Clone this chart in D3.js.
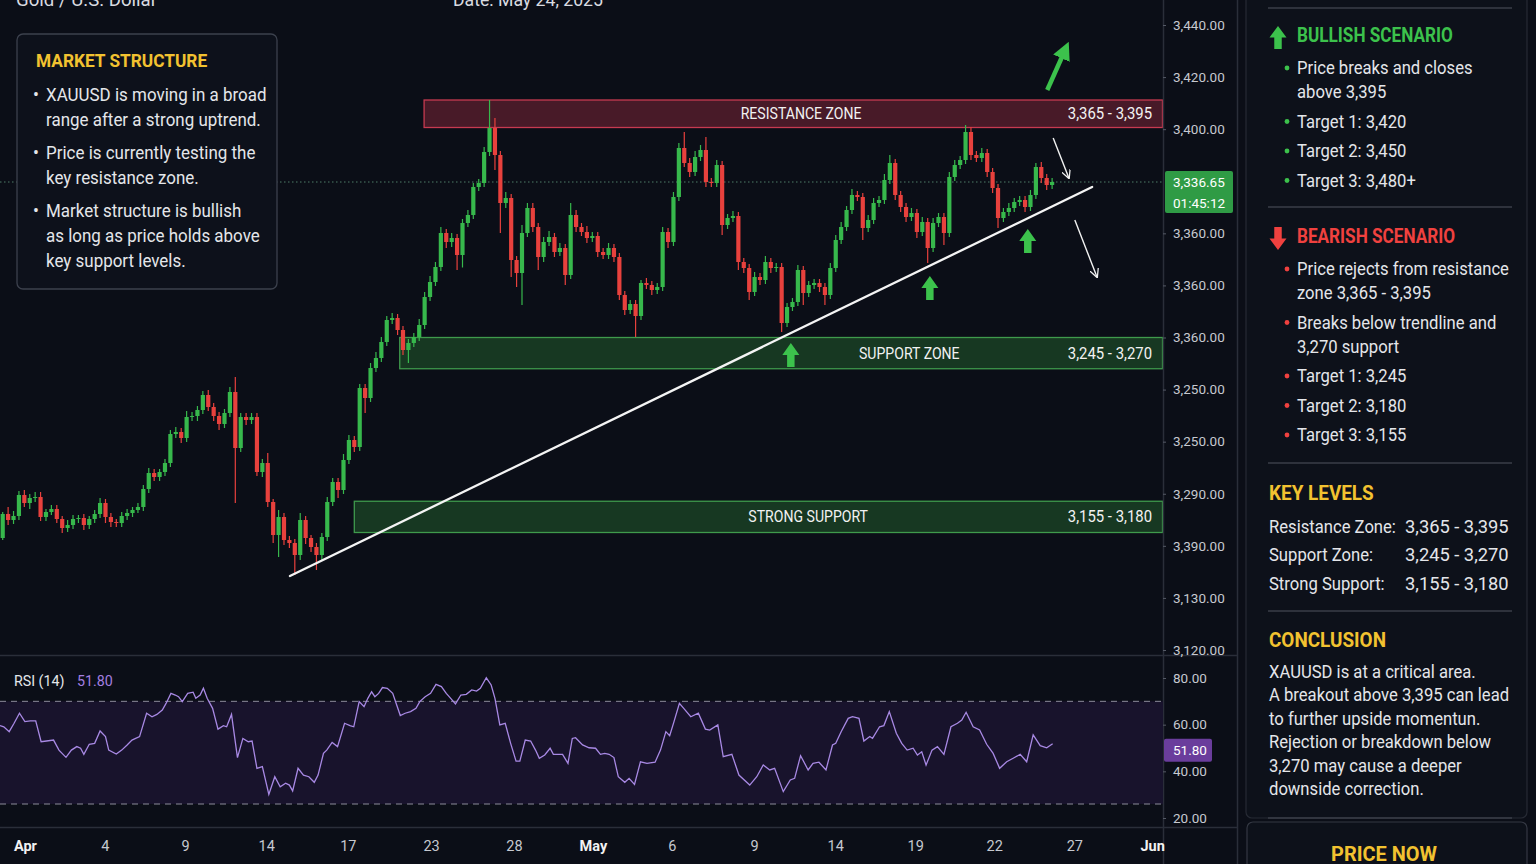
<!DOCTYPE html>
<html>
<head>
<meta charset="utf-8">
<script src="https://cdn.jsdelivr.net/npm/d3@7"></script>
<style>
    html, body { margin: 0; padding: 0; background: #0b0e17; overflow: hidden; }
    svg { display: block; font-family: Roboto, "Noto Sans", sans-serif; }
</style>
</head>
<body>
<svg id="chart" width="1536" height="864"></svg>
<script>
// ---- candle data (open = previous close) ----
const firstOpen = 3234.8;
const closes = [
    3244.4, 3242, 3243.6, 3252, 3248.8, 3250.8, 3251.2, 3243.2, 3245.2, 3246.4,
    3242.4, 3238.8, 3240, 3242.4, 3242.8, 3240, 3242.4, 3244.4, 3248.8, 3243.2,
    3241.2, 3240.8, 3243.6, 3244.8, 3246, 3247.2, 3254.4, 3260.8, 3259.2, 3261.2,
    3264.8, 3276.4, 3277.2, 3274.8, 3283.2, 3283.6, 3286, 3292, 3287.2, 3283.6,
    3280.4, 3284.8, 3293.2, 3270.8, 3283.2, 3282, 3283.2, 3261.2, 3264.8, 3249.2,
    3236, 3243.2, 3234, 3232.8, 3228, 3242, 3234.8, 3231.2, 3228, 3235.2,
    3249.2, 3257.2, 3254, 3266, 3274, 3271.2, 3294.8, 3290.8, 3302.8, 3306.8,
    3313.2, 3322, 3322.8, 3318, 3310, 3312.8, 3315.2, 3320, 3331.2, 3337.2,
    3343.2, 3356.8, 3353.2, 3354.8, 3348, 3360.8, 3364, 3375.2, 3376.8, 3389.2,
    3398.8, 3388, 3368.8, 3370.8, 3346, 3340.8, 3356.8, 3366.8, 3359.2, 3347.2,
    3353.2, 3355.2, 3349.2, 3350.8, 3340, 3364, 3359.2, 3357.2, 3354.8, 3355.6,
    3349.2, 3348, 3350.8, 3347.2, 3332, 3326, 3328.4, 3323.6, 3336.8, 3336,
    3334, 3335.2, 3357.2, 3353.2, 3371.2, 3390.8, 3384.8, 3381.2, 3387.2, 3390,
    3377.2, 3376.8, 3384, 3360, 3362.8, 3363.6, 3345.2, 3342.8, 3333.2, 3339.2,
    3338, 3345.2, 3342.8, 3343.2, 3320.8, 3327.2, 3329.2, 3342, 3332.8, 3336,
    3336.8, 3335.2, 3332, 3342.8, 3354, 3359.2, 3366, 3372, 3371.2, 3358.8,
    3362, 3368.8, 3370, 3378, 3384.8, 3372, 3367.2, 3363.2, 3364.8, 3357.2,
    3361.2, 3350.8, 3360.8, 3363.2, 3356.8, 3379.2, 3384, 3386, 3397.2, 3388,
    3386.8, 3388.8, 3381.2, 3374.8, 3362.8, 3365.2, 3366.8, 3369.2, 3370, 3367.2,
    3372, 3383.2, 3378.8, 3376, 3377.2
];
const upperWick = [
    0.8, 2.8, 2, 1.6, 2, 1.6, 2, 2, 1.2, 1.6,
    1.6, 1.2, 2, 1.6, 1.2, 1.6, 1.2, 1.6, 2, 1.6,
    1.6, 1.2, 1.6, 1.6, 1.2, 1.6, 1.6, 2, 1.6, 1.2,
    1.6, 1.6, 2, 1.6, 2.4, 1.6, 1.6, 1.6, 2, 1.6,
    1.6, 1.6, 2, 6, 1.6, 1.6, 1.6, 1.6, 1.6, 4,
    1.2, 2.8, 1.6, 1.6, 1.6, 2.8, 1.6, 1.2, 1.6, 1.6,
    2, 1.6, 1.6, 2.4, 2, 1.6, 1.6, 1.6, 2, 2.4,
    2, 1.6, 2, 1.6, 1.6, 1.6, 1.6, 2.4, 2, 2.4,
    2, 2.4, 1.6, 2, 1.6, 1.6, 2, 1.6, 1.6, 2,
    11.2, 4, 1.6, 2.4, 1.6, 1.6, 3.2, 2, 2, 1.6,
    2, 2.4, 1.6, 2, 1.6, 4.8, 2, 1.6, 2.4, 1.6,
    1.6, 1.6, 2, 1.6, 1.6, 1.6, 1.6, 1.6, 1.2, 2,
    1.6, 1.6, 2, 1.6, 2, 2, 6.4, 2, 2.4, 2,
    5.2, 1.6, 2, 1.6, 1.6, 2, 1.6, 1.6, 1.6, 2,
    1.6, 2.4, 1.6, 1.6, 1.6, 1.6, 1.6, 2, 1.6, 1.6,
    1.6, 1.6, 1.6, 2, 2, 2, 1.6, 2.4, 1.6, 1.6,
    2, 2, 1.6, 2.4, 3.2, 1.6, 1.6, 1.6, 2, 1.6,
    2, 1.6, 2, 1.6, 1.6, 2, 2, 1.6, 2.8, 2,
    1.6, 2, 1.6, 1.6, 1.6, 1.6, 2, 1.6, 1.6, 1.6,
    2, 1.6, 2, 1.6, 1.6
];
const lowerWick = [
    0.8, 2, 1.6, 1.6, 1.6, 2.4, 1.6, 1.6, 1.6, 1.2,
    1.6, 2, 1.6, 1.6, 1.6, 2, 1.6, 1.6, 1.6, 2.4,
    2, 1.6, 1.6, 1.6, 1.6, 1.2, 1.6, 1.6, 1.6, 1.6,
    1.6, 1.6, 1.6, 2, 1.6, 1.6, 2, 1.6, 1.6, 2,
    2.4, 1.6, 1.6, 22, 1.6, 2, 1.6, 1.6, 2, 2,
    3.2, 8.8, 2, 2, 8, 2, 2.4, 2, 6, 2,
    1.6, 1.6, 3.2, 1.6, 1.6, 2, 1.6, 6, 1.6, 1.6,
    1.6, 1.6, 1.6, 2, 2, 5.2, 1.6, 1.6, 1.6, 1.6,
    1.6, 1.6, 2.4, 2, 6, 5, 1.6, 1.6, 1.6, 1.6,
    1.6, 6, 12, 2, 6.8, 5.6, 12.8, 1.6, 2, 5.2,
    2, 1.6, 2, 1.6, 4, 1.6, 2, 1.6, 2, 1.6,
    2, 1.6, 1.6, 2, 2, 2, 1.6, 8.4, 1.6, 1.6,
    2, 1.6, 1.6, 2.4, 1.6, 1.6, 1.6, 2, 1.6, 1.6,
    2, 1.6, 1.6, 4, 1.6, 1.6, 3.2, 2, 3.2, 1.6,
    2, 1.6, 2, 1.6, 3.6, 1.6, 1.6, 1.6, 4.8, 1.6,
    1.6, 2, 4, 1.6, 1.6, 1.6, 1.6, 1.6, 1.6, 4.8,
    1.6, 1.6, 1.6, 1.6, 1.6, 2, 2, 2, 1.6, 2.4,
    1.6, 6, 1.6, 1.6, 4.8, 1.6, 1.6, 1.6, 1.6, 2,
    1.6, 1.6, 2, 2, 4, 1.6, 1.6, 1.6, 1.6, 2,
    1.6, 1.6, 2, 2, 1.6
];

// ---- RSI (candle index, value) ----
const rsiPoints = [
    [-0.5,59.6],[0.2,59.1],[1.2,57],[2.1,60.6],[3.1,64.9],[4.1,61.3],[5.1,61.6],[6.1,61.6],[7.1,52.7],[8.1,53],
    [9.4,53.4],[10.4,49.1],[11.7,46],[12.7,49.1],[13.7,50.6],[14.4,49.9],[15,47.3],[16,51.6],[17,52],[18,57.3],
    [19,54.9],[19.6,49.1],[21,47.4],[22,49.1],[23,51.3],[23.9,53.4],[25.3,54.9],[26.6,64.9],[27.6,63.4],[28.5,64.4],
    [29.5,66.3],[30.2,69.1],[31.1,73.4],[31.9,72.7],[32.5,72],[33.2,69.9],[34.2,73.4],[35.2,73.9],[35.7,71.3],[36.5,72.7],
    [37.1,75.6],[37.8,71.3],[38.8,67],[39.8,58.1],[40.8,59.6],[41.4,59.1],[42.3,64.4],[43.4,45.9],[44.4,54.1],[45.4,52.7],
    [46.1,53],[47,41.3],[48,42],[49.2,30.1],[50.3,37.7],[51.3,33.4],[52.3,34.9],[53,34.1],[53.6,31.6],[54.6,41.3],
    [55.6,38.4],[56.6,37.7],[57.6,35.3],[58.3,38.4],[59.3,47.7],[59.9,49.1],[60.9,52.4],[61.9,50.6],[63.2,60.6],[64.2,59.6],
    [64.9,59.1],[65.9,69.9],[66.8,67.7],[67.5,71.3],[68.2,74.1],[68.8,72],[69.5,73.4],[70.2,75.9],[71.1,75.6],[72.1,73.4],
    [73.5,63.9],[74.4,64.9],[75.4,65.6],[76.4,67],[77.1,69.9],[78.1,72],[79.1,73.4],[80.1,77.3],[81.1,76.3],[82,73.4],
    [82.7,71.6],[83.7,68.9],[84.7,72.7],[85.7,73],[86.7,74.9],[87.6,74.4],[88.3,75.6],[89.4,80.1],[90.3,77],[91,71.3],
    [91.9,59.9],[92.9,60.6],[93.9,52],[94.9,44.4],[95.6,44.4],[96.6,53.4],[97.6,53],[98.5,49.1],[99.2,45.6],[100.2,47],
    [101.2,49.9],[101.8,47.3],[103.5,47.3],[104.5,43.4],[105.3,54.1],[105.9,54.4],[107.2,51.3],[108.4,50.1],[109.6,49.9],[110.5,47.3],
    [111.3,47.7],[112.1,47.3],[113,45.9],[113.8,37.7],[115,35.3],[115.8,37],[116.8,34.4],[117.9,44.1],[119.1,43.4],[120.6,43.9],
    [121.6,49.1],[122.6,57],[123.3,55.3],[124.1,61.3],[125.1,69.1],[125.9,67],[127.2,63.4],[128.6,64.9],[129.9,58.1],[130.7,57.7],
    [132.2,59.9],[133.2,46.3],[134.8,47.3],[136.1,38.4],[138.1,34.1],[139.4,37.7],[140.6,42.7],[141.8,40.6],[142.7,41.3],[144.3,31.3],
    [145.6,36.3],[146.4,37],[147.5,46.7],[148.9,40.6],[149.8,43.4],[150.9,43.9],[152.2,40.6],[153.4,51.3],[154,52],[155,57],
    [156.3,62.7],[157.1,63.4],[158.3,62.7],[159.2,53],[160.3,54.9],[160.8,54.1],[162.1,59.1],[162.9,59.6],[163.9,65.6],[165.2,56.3],
    [166.2,52],[167.2,49.1],[168.3,49.9],[169.1,47],[169.9,48.4],[170.7,42.7],[171.8,49.1],[172.8,50.6],[174,47.3],[175.3,59.1],
    [176.5,60.6],[177.3,62],[178.1,65.3],[179.4,59.1],[180.6,57.7],[181.9,51.6],[183.1,47.7],[184.3,41.3],[185.6,44.1],[186.8,45.6],
    [188.1,47.3],[189.3,44.1],[190.5,55.6],[191.8,51],[193,50.1],[194.1,51.8]
];
const rsiLast = 51.8;
const rsiBands = [70, 26];
const rsiTicks = [80, 60, 40, 20];

// ---- axes labels ----
const priceTickLabels = ["3,440.00", "3,420.00", "3,400.00", "", "3,360.00", "3,360.00", "3,360.00",
    "3,250.00", "3,250.00", "3,290.00", "3,390.00", "3,130.00", "3,120.00"];
const dateTickIdx = [4.1, 18.9, 33.7, 48.7, 63.8, 79.2, 94.5, 109.1, 123.7, 138.9, 153.9, 168.7, 183.3, 198.1, 212.5];
const dateTickLabels = ["Apr", "4", "9", "14", "17", "23", "28", "May", "6", "9", "14", "19", "22", "27", "Jun"];
const monthLabels = ["Apr", "May", "Jun"];

// ---- zones & annotations ----
const zoneNames = ["RESISTANCE ZONE", "SUPPORT ZONE", "STRONG SUPPORT"];
const zoneRangeText = ["3,365 - 3,395", "3,245 - 3,270", "3,155 - 3,180"];
const zoneLow = [3399, 3302.5, 3237];
const zoneHigh = [3410, 3315, 3249.5];
const zoneFrom = [77.9, 73.4, 65];
const zoneLabelAt = [147.6, 167.6, 148.9];
const trendline = [[53.1, 3219.6], [201.4, 3375.2]];
const upArrowIdx = [145.7, 171.4, 189.5];
const upArrowPrice = [3312.8, 3339.6, 3358.4];
const bullArrow = [[193.1, 3414], [196.4, 3430]];
const bearArrows = [[[194.2, 3394.8], [197.1, 3378.8]], [[198.2, 3362], [202.3, 3339.2]]];
const lastPriceLabel = "3,336.65";
const countdownLabel = "01:45:12";

// ---- texts ----
const headerLeft = "Gold / U.S. Dollar";
const headerDate = "Date: May 24, 2025";
const marketItems = [
    ["XAUUSD is moving in a broad", "range after a strong uptrend."],
    ["Price is currently testing the", "key resistance zone."],
    ["Market structure is bullish", "as long as price holds above", "key support levels."]
];
const bullishItems = [["Price breaks and closes", "above 3,395"], ["Target 1: 3,420"], ["Target 2: 3,450"], ["Target 3: 3,480+"]];
const bearishItems = [["Price rejects from resistance", "zone 3,365 - 3,395"], ["Breaks below trendline and", "3,270 support"],
    ["Target 1: 3,245"], ["Target 2: 3,180"], ["Target 3: 3,155"]];
const keyLevelNames = ["Resistance Zone:", "Support Zone:", "Strong Support:"];
const keyLevelValues = ["3,365 - 3,395", "3,245 - 3,270", "3,155 - 3,180"];
const conclusionLines = ["XAUUSD is at a critical area.", "A breakout above 3,395 can lead", "to further upside momentun.",
    "Rejection or breakdown below", "3,270 may cause a deeper", "downside correction."];

// ---- colours ----
const upColor = "#37b84c";
const downColor = "#e8413d";
const yellow = "#f2c230";
const textColor = "#e4e6ea";
const axisText = "#c6c9d0";
const lineColor = "#2a2e39";

const svg = d3.select("#chart");
const plotR = 1163;

const x = d3.scaleLinear().domain([-0.5, 214.5]).range([0, plotR]);
const y = d3.scaleLinear().domain([3190, 3440]).range([650, 25]);
const yRsi = d3.scaleLinear().domain([20, 80]).range([818, 678]);

function txt(parent, px, py, s, size, fill, weight, anchor, sx) {
    return parent.append("text")
        .attr("transform", `translate(${px},${py}) scale(${sx || 1},1)`)
        .attr("font-size", size)
        .attr("font-weight", weight || 400)
        .attr("text-anchor", anchor || "start")
        .attr("fill", fill)
        .text(s);
}

function blockArrow(parent, cx, top, w, h, color, down) {
    // arrow pointing up (or down) with a square shaft
    const head = h * 0.5, shaft = w * 0.44;
    const p = d3.path();
    if (!down) {
        p.moveTo(cx, top); p.lineTo(cx + w / 2, top + head); p.lineTo(cx + shaft / 2, top + head);
        p.lineTo(cx + shaft / 2, top + h); p.lineTo(cx - shaft / 2, top + h); p.lineTo(cx - shaft / 2, top + head);
        p.lineTo(cx - w / 2, top + head);
    } else {
        p.moveTo(cx, top + h); p.lineTo(cx + w / 2, top + h - head); p.lineTo(cx + shaft / 2, top + h - head);
        p.lineTo(cx + shaft / 2, top); p.lineTo(cx - shaft / 2, top); p.lineTo(cx - shaft / 2, top + h - head);
        p.lineTo(cx - w / 2, top + h - head);
    }
    p.closePath();
    parent.append("path").attr("d", p.toString()).attr("fill", color);
}

// background
svg.append("rect").attr("width", 1536).attr("height", 864).attr("fill", "#0b0e17");

const defs = svg.append("defs");
defs.append("clipPath").attr("id", "plotClip").append("rect").attr("x", 0).attr("y", 0).attr("width", plotR).attr("height", 655);
defs.append("clipPath").attr("id", "rsiClip").append("rect").attr("x", 0).attr("y", 656).attr("width", plotR).attr("height", 170);
defs.append("marker").attr("id", "greenHead").attr("viewBox", "0 0 10 10").attr("refX", 5).attr("refY", 5)
    .attr("markerWidth", 4).attr("markerHeight", 4).attr("orient", "auto-start-reverse")
    .append("path").attr("d", "M0,0 L10,5 L0,10 z").attr("fill", "#3cc24c");
defs.append("marker").attr("id", "whiteHead").attr("viewBox", "0 0 10 10").attr("refX", 9).attr("refY", 5)
    .attr("markerWidth", 9).attr("markerHeight", 9).attr("markerUnits", "userSpaceOnUse").attr("orient", "auto")
    .append("path").attr("d", "M0,0 L10,5 L0,10").attr("fill", "none").attr("stroke", "#f2f2f2").attr("stroke-width", 1.4);

// ---- price pane ----
const plot = svg.append("g").attr("clip-path", "url(#plotClip)");

zoneNames.forEach((name, k) => {
    const res = k === 0;
    plot.append("rect")
        .attr("x", x(zoneFrom[k])).attr("width", plotR - x(zoneFrom[k]) - 0.5)
        .attr("y", y(zoneHigh[k])).attr("height", y(zoneLow[k]) - y(zoneHigh[k]))
        .attr("fill", res ? "#481a28" : "#173822")
        .attr("stroke", res ? "#c63a50" : "#3f9a4c").attr("stroke-width", 1.3);
});

// last price dotted line
plot.append("line")
    .attr("x1", 0).attr("x2", plotR)
    .attr("y1", y(closes[closes.length - 1])).attr("y2", y(closes[closes.length - 1]))
    .attr("stroke", "#4f7d69").attr("stroke-width", 1).attr("stroke-dasharray", "1.5,2.5");

const candles = closes.map((c, i) => {
    const o = i === 0 ? firstOpen : closes[i - 1];
    return { i, o, c, h: Math.max(o, c) + upperWick[i], l: Math.min(o, c) - lowerWick[i] };
});
const bw = 4.2;
plot.selectAll("line.wick").data(candles).join("line").attr("class", "wick")
    .attr("x1", d => x(d.i)).attr("x2", d => x(d.i))
    .attr("y1", d => y(d.h)).attr("y2", d => y(d.l))
    .attr("stroke", d => d.c >= d.o ? upColor : downColor).attr("stroke-width", 1.2);
plot.selectAll("rect.body").data(candles).join("rect").attr("class", "body")
    .attr("x", d => x(d.i) - bw / 2).attr("width", bw)
    .attr("y", d => y(Math.max(d.o, d.c)))
    .attr("height", d => Math.max(1, Math.abs(y(d.o) - y(d.c))))
    .attr("fill", d => d.c >= d.o ? upColor : downColor);

// trendline
plot.append("line")
    .attr("x1", x(trendline[0][0])).attr("y1", y(trendline[0][1]))
    .attr("x2", x(trendline[1][0])).attr("y2", y(trendline[1][1]))
    .attr("stroke", "#f4f4f4").attr("stroke-width", 2.3).attr("stroke-linecap", "round");

// support bounce arrows
upArrowIdx.forEach((ix, k) => blockArrow(plot, x(ix), y(upArrowPrice[k]), 17, 24, "#3cc24c", false));

// scenario arrows
plot.append("line")
    .attr("x1", x(bullArrow[0][0])).attr("y1", y(bullArrow[0][1]))
    .attr("x2", x(bullArrow[1][0])).attr("y2", y(bullArrow[1][1]))
    .attr("stroke", "#3cc24c").attr("stroke-width", 4.5).attr("marker-end", "url(#greenHead)");
bearArrows.forEach(a => {
    plot.append("line")
        .attr("x1", x(a[0][0])).attr("y1", y(a[0][1]))
        .attr("x2", x(a[1][0])).attr("y2", y(a[1][1]))
        .attr("stroke", "#f2f2f2").attr("stroke-width", 1.4).attr("marker-end", "url(#whiteHead)");
});

// zone labels
zoneNames.forEach((name, k) => {
    const mid = (y(zoneHigh[k]) + y(zoneLow[k])) / 2 + 5.5;
    txt(plot, x(zoneLabelAt[k]), mid, name, 16, "#f2f2f2", 400, "middle", 0.88);
    txt(plot, plotR - 11, mid, zoneRangeText[k], 16, "#f2f2f2", 400, "end", 0.93);
});

// market structure box
const box = svg.append("g");
box.append("rect").attr("x", 17).attr("y", 34).attr("width", 260).attr("height", 255).attr("rx", 6)
    .attr("fill", "#0d111b").attr("stroke", "#3c414d").attr("stroke-width", 1.3);
txt(box, 36, 67, "MARKET STRUCTURE", 19, yellow, 700, "start", 0.91);
let my = 101;
marketItems.forEach(item => {
    item.forEach((line, j) => {
        if (j === 0) txt(box, 33, my, "•", 17.5, textColor, 400, "start", 1);
        txt(box, 46, my, line, 17.5, textColor, 400, "start", 0.97);
        my += 25;
    });
    my += 8;
});

// header (cut at top)
txt(svg, 16, 6, headerLeft, 19, "#d9dbe0", 400, "start", 0.98);
txt(svg, 453, 6, headerDate, 19, "#d9dbe0", 400, "start", 0.93);

// ---- pane separators ----
svg.append("line").attr("x1", 0).attr("x2", 1238).attr("y1", 655.5).attr("y2", 655.5).attr("stroke", lineColor).attr("stroke-width", 1.5);
svg.append("line").attr("x1", 0).attr("x2", 1238).attr("y1", 827.5).attr("y2", 827.5).attr("stroke", lineColor).attr("stroke-width", 1.5);
svg.append("line").attr("x1", plotR + 0.5).attr("x2", plotR + 0.5).attr("y1", 0).attr("y2", 864).attr("stroke", lineColor).attr("stroke-width", 1.5);
svg.append("line").attr("x1", 1237.5).attr("x2", 1237.5).attr("y1", 0).attr("y2", 864).attr("stroke", lineColor).attr("stroke-width", 1.5);

// price axis
const tickScale = d3.scalePoint().domain(d3.range(priceTickLabels.length)).range([25, 650]);
const pAxis = svg.append("g").attr("transform", `translate(${plotR},0)`)
    .call(d3.axisRight(tickScale).tickSize(3).tickPadding(7).tickFormat(i => priceTickLabels[i]));
pAxis.select(".domain").remove();
pAxis.selectAll(".tick line").attr("stroke", "#555a66").attr("opacity", d => priceTickLabels[d] ? 1 : 0);
pAxis.selectAll(".tick text").attr("fill", axisText).attr("font-size", 13.5).attr("font-family", "Roboto, sans-serif");

// last price tag
const ly = y(closes[closes.length - 1]);
svg.append("rect").attr("x", 1165).attr("y", ly - 11).attr("width", 68).attr("height", 42).attr("rx", 2).attr("fill", "#2f9b45");
txt(svg, 1173, ly + 5, lastPriceLabel, 13.5, "#ffffff", 400, "start", 1);
txt(svg, 1173, ly + 26, countdownLabel, 13.5, "#ffffff", 400, "start", 1);

// ---- RSI pane ----
const rsiG = svg.append("g").attr("clip-path", "url(#rsiClip)");
rsiG.append("rect").attr("x", 0).attr("width", plotR)
    .attr("y", yRsi(rsiBands[0])).attr("height", yRsi(rsiBands[1]) - yRsi(rsiBands[0]))
    .attr("fill", "#18132c");
rsiBands.forEach(v => {
    rsiG.append("line").attr("x1", 0).attr("x2", plotR).attr("y1", yRsi(v)).attr("y2", yRsi(v))
        .attr("stroke", "#8b8b99").attr("stroke-width", 1).attr("stroke-dasharray", "6,5");
});
rsiG.append("path").datum(rsiPoints)
    .attr("d", d3.line().x(d => x(d[0])).y(d => yRsi(d[1])))
    .attr("fill", "none").attr("stroke", "#a889e4").attr("stroke-width", 1.3);

const rAxis = svg.append("g").attr("transform", `translate(${plotR},0)`)
    .call(d3.axisRight(yRsi).tickValues(rsiTicks).tickSize(3).tickPadding(7).tickFormat(d3.format(".2f")));
rAxis.select(".domain").remove();
rAxis.selectAll(".tick line").attr("stroke", "#555a66");
rAxis.selectAll(".tick text").attr("fill", axisText).attr("font-size", 13.5).attr("font-family", "Roboto, sans-serif");

svg.append("rect").attr("x", 1164).attr("y", yRsi(rsiLast) - 5).attr("width", 48).attr("height", 23).attr("rx", 2).attr("fill", "#6a3d9c");
txt(svg, 1173, yRsi(rsiLast) + 11.5, d3.format(".2f")(rsiLast), 13.5, "#ffffff", 400, "start", 1);

txt(svg, 14, 686, "RSI (14)", 15, "#e4e6ea", 400, "start", 0.95);
txt(svg, 77, 686, d3.format(".2f")(rsiLast), 15, "#a47fe0", 400, "start", 0.95);

// date axis
const dAxis = svg.append("g").attr("transform", "translate(0,827)")
    .call(d3.axisBottom(x).tickValues(dateTickIdx).tickSize(0).tickPadding(14).tickFormat((d, i) => dateTickLabels[i]));
dAxis.select(".domain").remove();
dAxis.selectAll(".tick text")
    .attr("fill", (d, i) => monthLabels.includes(dateTickLabels[i]) ? "#f2f2f2" : axisText)
    .attr("font-weight", (d, i) => monthLabels.includes(dateTickLabels[i]) ? 700 : 400)
    .attr("font-size", 14.5).attr("font-family", "Roboto, sans-serif");

// ---- right panel ----
const panel = svg.append("g");
panel.append("rect").attr("x", 1246).attr("y", -10).attr("width", 281).attr("height", 828).attr("rx", 6)
    .attr("fill", "#0d111a").attr("stroke", "#262a34").attr("stroke-width", 1.2);
[8, 207, 463, 611, 818].forEach(sy => {
    panel.append("line").attr("x1", 1268).attr("x2", 1512).attr("y1", sy).attr("y2", sy)
        .attr("stroke", "#3a3e48").attr("stroke-width", 1.6);
});

function scenario(title, color, items, titleY, down) {
    blockArrow(panel, 1278, titleY - 16, 17, 23, color, down);
    txt(panel, 1297, titleY, title, 19.5, color, 700, "start", 0.88);
    let yy = titleY + 32;
    items.forEach(item => {
        panel.append("circle").attr("cx", 1287).attr("cy", yy - 6).attr("r", 2.4).attr("fill", color);
        item.forEach(line => {
            txt(panel, 1297, yy, line, 18.5, textColor, 400, "start", 0.9);
            yy += 24;
        });
        yy += 5.5;
    });
}
scenario("BULLISH SCENARIO", "#3cc24c", bullishItems, 42, false);
scenario("BEARISH SCENARIO", "#f0413f", bearishItems, 243, true);

txt(panel, 1269, 500, "KEY LEVELS", 19.5, yellow, 700, "start", 0.97);
keyLevelNames.forEach((n, k) => {
    txt(panel, 1269, 533 + k * 28.3, n, 18.5, textColor, 400, "start", 0.9);
    txt(panel, 1405, 533 + k * 28.3, keyLevelValues[k], 18.5, textColor, 400, "start", 0.99);
});

txt(panel, 1269, 647, "CONCLUSION", 19.5, yellow, 700, "start", 0.97);
conclusionLines.forEach((l, k) => txt(panel, 1269, 678 + k * 23.4, l, 18.5, textColor, 400, "start", 0.9));

panel.append("rect").attr("x", 1247).attr("y", 822).attr("width", 280).attr("height", 60).attr("rx", 6)
    .attr("fill", "#0d111a").attr("stroke", "#343843").attr("stroke-width", 1.2);
txt(panel, 1384, 861, "PRICE NOW", 21, yellow, 700, "middle", 0.95);
</script>
</body>
</html>
